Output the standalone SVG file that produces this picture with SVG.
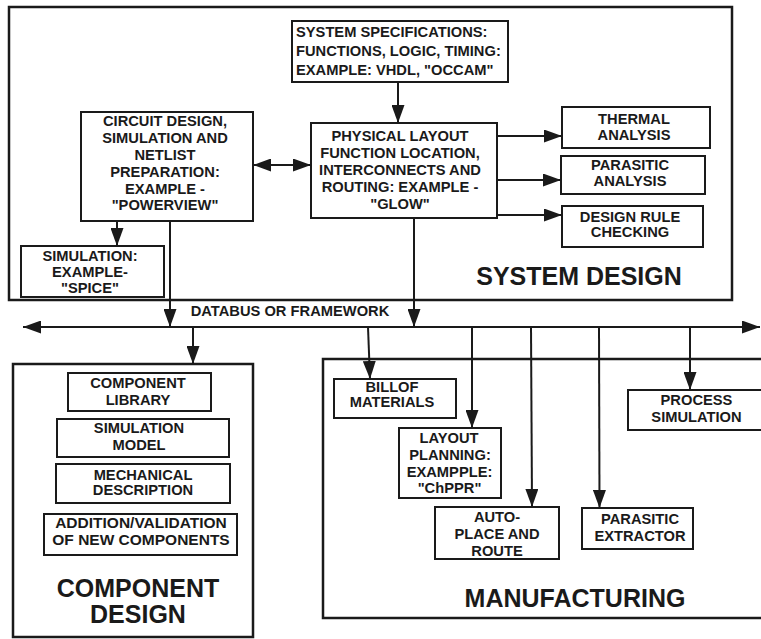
<svg xmlns="http://www.w3.org/2000/svg" width="761" height="639" viewBox="0 0 761 639">
<defs>
<style>
.box{fill:none;stroke:#1a1a1a;stroke-width:2}
.frame{fill:none;stroke:#1a1a1a;stroke-width:2.5}
.t{font-family:"Liberation Sans",Arial,Helvetica,sans-serif;font-weight:bold;font-size:14.7px;fill:#1a1a1a;text-anchor:middle}
.tl{text-anchor:start}
.big{font-size:25px}
.ln{fill:none;stroke:#1a1a1a;stroke-width:2}
</style>
<marker id="ah" markerUnits="userSpaceOnUse" markerWidth="18" markerHeight="13" refX="18" refY="6.5" orient="auto-start-reverse" viewBox="0 0 18 13">
<path d="M0,0 L18,6.5 L0,13 z" fill="#1a1a1a"/>
</marker>
</defs>
<rect width="761" height="639" fill="#ffffff"/>

<g id="system-design">
<rect class="frame" x="9" y="7" width="723" height="293"/>
<text class="t big" x="579" y="285">SYSTEM DESIGN</text>
</g>

<g id="system-specs">
<rect class="box" x="292" y="21" width="216" height="61"/>
<text class="t tl" x="296" y="37">SYSTEM SPECIFICATIONS:</text>
<text class="t tl" x="296" y="56">FUNCTIONS, LOGIC, TIMING:</text>
<text class="t tl" x="296" y="74.5">EXAMPLE: VHDL, "OCCAM"</text>
</g>

<g id="circuit-design">
<rect class="box" x="81" y="112" width="172" height="109"/>
<text class="t" x="165" y="126">CIRCUIT DESIGN,</text>
<text class="t" x="165" y="143">SIMULATION AND</text>
<text class="t" x="165" y="160">NETLIST</text>
<text class="t" x="165" y="177">PREPARATION:</text>
<text class="t" x="165" y="194">EXAMPLE -</text>
<text class="t" x="165" y="210">"POWERVIEW"</text>
</g>

<g id="physical-layout">
<rect class="box" x="311" y="123" width="186" height="95"/>
<text class="t" x="400" y="141">PHYSICAL LAYOUT</text>
<text class="t" x="400" y="158">FUNCTION LOCATION,</text>
<text class="t" x="400" y="175">INTERCONNECTS AND</text>
<text class="t" x="400" y="192">ROUTING: EXAMPLE -</text>
<text class="t" x="400" y="209">"GLOW"</text>
</g>

<g id="thermal-analysis">
<rect class="box" x="562" y="107" width="148" height="41"/>
<text class="t" x="634" y="124">THERMAL</text>
<text class="t" x="634" y="140">ANALYSIS</text>
</g>

<g id="parasitic-analysis">
<rect class="box" x="561" y="156" width="144" height="38"/>
<text class="t" x="630" y="170">PARASITIC</text>
<text class="t" x="630" y="186">ANALYSIS</text>
</g>

<g id="design-rule-checking">
<rect class="box" x="562" y="206" width="141" height="41"/>
<text class="t" x="630" y="222">DESIGN RULE</text>
<text class="t" x="630" y="237">CHECKING</text>
</g>

<g id="simulation-spice">
<rect class="box" x="21" y="246" width="143" height="51"/>
<text class="t" x="90" y="261">SIMULATION:</text>
<text class="t" x="90" y="277">EXAMPLE-</text>
<text class="t" x="90" y="293">"SPICE"</text>
</g>

<g id="databus">
<text class="t" x="290" y="316">DATABUS OR FRAMEWORK</text>
</g>

<g id="component-design">
<rect class="frame" x="13" y="364" width="240" height="273"/>
<text class="t big" x="138" y="597">COMPONENT</text>
<text class="t big" x="138" y="623">DESIGN</text>
</g>

<g id="component-library">
<rect class="box" x="68" y="373" width="143" height="38"/>
<text class="t" x="138" y="388">COMPONENT</text>
<text class="t" x="138" y="405">LIBRARY</text>
</g>

<g id="simulation-model">
<rect class="box" x="57" y="419" width="172" height="38"/>
<text class="t" x="139" y="433">SIMULATION</text>
<text class="t" x="139" y="450">MODEL</text>
</g>

<g id="mechanical-description">
<rect class="box" x="56" y="464" width="174" height="39"/>
<text class="t" x="143" y="480">MECHANICAL</text>
<text class="t" x="143" y="495">DESCRIPTION</text>
</g>

<g id="addition-validation">
<rect class="box" x="44" y="514" width="193" height="41"/>
<text class="t" x="141" y="528" style="font-size:15.5px">ADDITION/VALIDATION</text>
<text class="t" x="141" y="545" style="font-size:15.5px">OF NEW COMPONENTS</text>
</g>

<g id="manufacturing">
<rect class="frame" x="323" y="359" width="460" height="259"/>
<text class="t big" x="575" y="607">MANUFACTURING</text>
</g>

<g id="bill-of-materials">
<rect class="box" x="334" y="379" width="122" height="39"/>
<text class="t" x="392" y="392">BILLOF</text>
<text class="t" x="392" y="407">MATERIALS</text>
</g>

<g id="layout-planning">
<rect class="box" x="399" y="428" width="102" height="70"/>
<text class="t" x="449" y="443">LAYOUT</text>
<text class="t" x="450" y="460">PLANNING:</text>
<text class="t" x="449.5" y="476.5">EXAMPPLE:</text>
<text class="t" x="449.5" y="493">"ChPPR"</text>
</g>

<g id="auto-place-route">
<rect class="box" x="435" y="507" width="124" height="52"/>
<text class="t" x="497" y="522">AUTO-</text>
<text class="t" x="497" y="539">PLACE AND</text>
<text class="t" x="497" y="555.5">ROUTE</text>
</g>

<g id="parasitic-extractor">
<rect class="box" x="582" y="508" width="111" height="41"/>
<text class="t" x="640" y="524">PARASITIC</text>
<text class="t" x="640" y="540.5">EXTRACTOR</text>
</g>

<g id="process-simulation">
<rect class="box" x="628" y="390" width="150" height="40"/>
<text class="t" x="696.5" y="405">PROCESS</text>
<text class="t" x="696.5" y="422">SIMULATION</text>
</g>

<g id="connectors">
<line class="ln" x1="398" y1="82" x2="398" y2="123" marker-end="url(#ah)"/>
<line class="ln" x1="253" y1="165" x2="311" y2="165" marker-start="url(#ah)" marker-end="url(#ah)"/>
<line class="ln" x1="497" y1="136" x2="562" y2="136" marker-end="url(#ah)"/>
<line class="ln" x1="497" y1="180" x2="561" y2="180" marker-end="url(#ah)"/>
<line class="ln" x1="497" y1="215" x2="562" y2="215" marker-end="url(#ah)"/>
<line class="ln" x1="117" y1="221" x2="117" y2="246" marker-end="url(#ah)"/>
<line class="ln" x1="170" y1="221" x2="170" y2="327" marker-end="url(#ah)"/>
<line class="ln" x1="414" y1="218" x2="414" y2="327" marker-end="url(#ah)"/>
<line class="ln" x1="23" y1="327" x2="760" y2="327" marker-start="url(#ah)" marker-end="url(#ah)"/>
<line class="ln" x1="193" y1="327" x2="193" y2="364" marker-end="url(#ah)"/>
<line class="ln" x1="368" y1="327" x2="370" y2="379" marker-end="url(#ah)"/>
<line class="ln" x1="472" y1="327" x2="472" y2="428" marker-end="url(#ah)"/>
<line class="ln" x1="531" y1="327" x2="532" y2="507" marker-end="url(#ah)"/>
<line class="ln" x1="599" y1="327" x2="599.5" y2="508" marker-end="url(#ah)"/>
<line class="ln" x1="690" y1="327" x2="690" y2="390" marker-end="url(#ah)"/>
</g>
</svg>
